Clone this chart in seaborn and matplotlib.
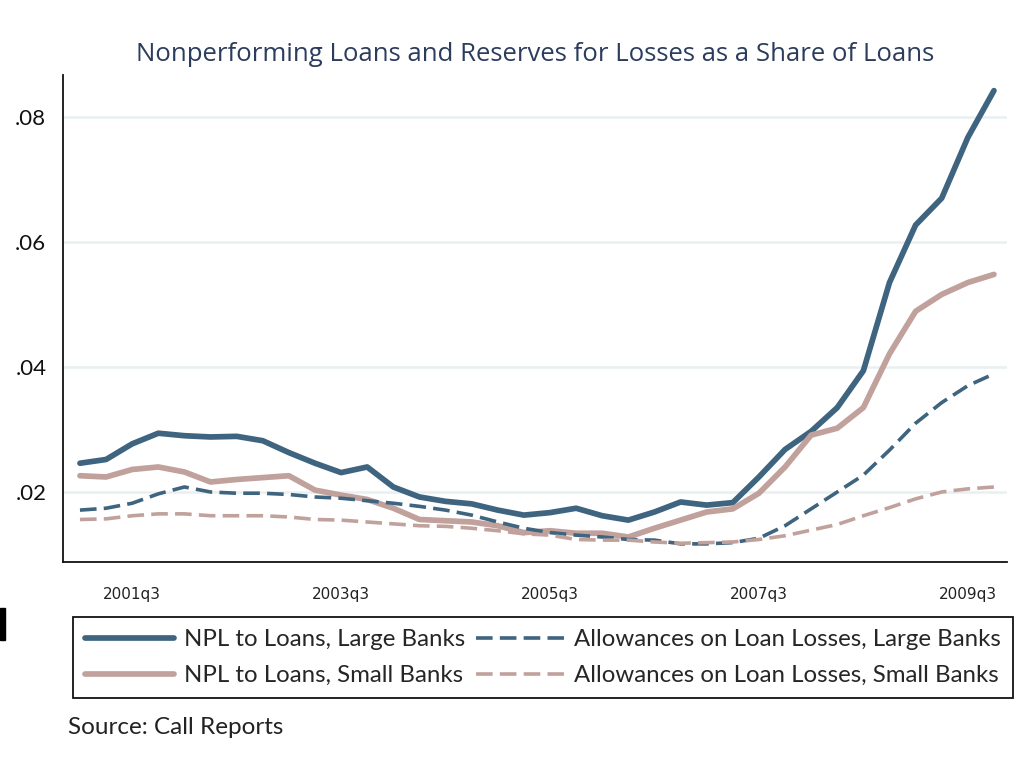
import pandas as pd
import matplotlib.pyplot as plt
import seaborn as sns
from matplotlib.patches import Rectangle

# Quarterly series, 2001q1 - 2009q4
quarters = [f'{y}q{q}' for y in range(2001, 2010) for q in range(1, 5)]

npl_large = [0.0246, 0.0252, 0.0277, 0.0294, 0.0290, 0.0288, 0.0289, 0.0282, 0.0263,
             0.0246, 0.0231, 0.0240, 0.0208, 0.0192, 0.0185, 0.0181, 0.0171, 0.0163,
             0.0167, 0.0174, 0.0162, 0.0155, 0.0168, 0.0184, 0.0179, 0.0183, 0.0224,
             0.0268, 0.0297, 0.0335, 0.0394, 0.0535, 0.0627, 0.0670, 0.0767, 0.0842]
npl_small = [0.0226, 0.0224, 0.0236, 0.0240, 0.0232, 0.0216, 0.0220, 0.0223, 0.0226,
             0.0203, 0.0195, 0.0188, 0.0174, 0.0156, 0.0154, 0.0152, 0.0146, 0.0135,
             0.0138, 0.0134, 0.0134, 0.0128, 0.0142, 0.0155, 0.0168, 0.0173, 0.0198,
             0.0240, 0.0291, 0.0302, 0.0335, 0.0421, 0.0489, 0.0516, 0.0535, 0.0548]
allow_large = [0.0171, 0.0174, 0.0182, 0.0197, 0.0208, 0.0200, 0.0198, 0.0198, 0.0196,
               0.0192, 0.0190, 0.0186, 0.0182, 0.0177, 0.0171, 0.0163, 0.0152, 0.0142,
               0.0135, 0.0131, 0.0128, 0.0124, 0.0123, 0.0117, 0.0117, 0.0119, 0.0126,
               0.0146, 0.0173, 0.0200, 0.0227, 0.0267, 0.0310, 0.0343, 0.0370, 0.0389]
allow_small = [0.0156, 0.0157, 0.0162, 0.0165, 0.0165, 0.0162, 0.0162, 0.0162, 0.0160,
               0.0156, 0.0155, 0.0152, 0.0149, 0.0146, 0.0145, 0.0142, 0.0138, 0.0133,
               0.0131, 0.0124, 0.0123, 0.0123, 0.0120, 0.0118, 0.0119, 0.0120, 0.0124,
               0.0130, 0.0139, 0.0148, 0.0162, 0.0175, 0.0189, 0.0200, 0.0205, 0.0208]

xtick_labels = ['2001q3', '2003q3', '2005q3', '2007q3', '2009q3']
ytick_vals = [0.02, 0.04, 0.06, 0.08]
ytick_labels = ['.02', '.04', '.06', '.08']

labels = ['NPL to Loans, Large Banks', 'NPL to Loans, Small Banks',
          'Allowances on Loan Losses, Large Banks', 'Allowances on Loan Losses, Small Banks']

df = pd.DataFrame({'t': range(len(quarters)), 'quarter': quarters,
                   'npl_large': npl_large, 'npl_small': npl_small,
                   'allow_large': allow_large, 'allow_small': allow_small})

BLUE = '#3e647f'
PINK = '#c1a19b'

sns.set_style('white')
plt.rcParams['font.family'] = ['Lato', 'DejaVu Sans']

fig = plt.figure(figsize=(10.28, 7.7), dpi=100)
ax = fig.add_axes([63 / 1028, 1 - 562 / 770, (1007 - 63) / 1028, (562 - 75) / 770])

# grid first so it sits under the lines
for v in ytick_vals:
    ax.axhline(v, color='#e8f0f2', linewidth=1.8, zorder=0)

dash = (0, (4.6, 2.0))
sns.lineplot(data=df, x='t', y='npl_large', color=BLUE, linewidth=4.1, ax=ax, label=labels[0])
sns.lineplot(data=df, x='t', y='npl_small', color=PINK, linewidth=4.1, ax=ax, label=labels[1])
sns.lineplot(data=df, x='t', y='allow_large', color=BLUE, linewidth=2.6, linestyle=dash, ax=ax, label=labels[2])
sns.lineplot(data=df, x='t', y='allow_small', color=PINK, linewidth=2.6, linestyle=dash, ax=ax, label=labels[3])

ax.set_xlim(-0.65, 35.5)
ax.set_ylim(0.0088, 0.0867)
ax.set_xlabel('')
ax.set_ylabel('')

ax.set_xticks([quarters.index(q) for q in xtick_labels])
ax.set_xticklabels(xtick_labels, fontsize=11, family='DejaVu Sans', color='#222222')
ax.set_yticks(ytick_vals)
ax.set_yticklabels(ytick_labels, fontsize=16, color='#111111')
ax.tick_params(axis='both', direction='out', length=8, width=1.2, color='#222222')
ax.tick_params(axis='x', pad=10)
ax.tick_params(axis='y', pad=4)

sns.despine(ax=ax)
for side in ['left', 'bottom']:
    ax.spines[side].set_color('#111111')
    ax.spines[side].set_linewidth(1.3)

ax.set_title('Nonperforming Loans and Reserves for Losses as a Share of Loans',
             fontsize=18.5, color='#2b3c5c', family=['Open Sans', 'DejaVu Sans'], pad=10)

handles, lbls = ax.get_legend_handles_labels()
ax.get_legend().remove()
leg = fig.legend(handles, lbls, ncol=2, loc='upper left',
                 bbox_to_anchor=(73 / 1028, 1 - 617 / 770),
                 frameon=True, fancybox=False, edgecolor='#111111', framealpha=1,
                 fontsize=17.3, handlelength=3.7, handletextpad=0.4, columnspacing=0.45,
                 borderpad=0.5, labelspacing=0.62, borderaxespad=0)
leg.get_frame().set_linewidth(1.3)

fig.text(68 / 1028, 1 - 727 / 770, 'Source: Call Reports', fontsize=17.5, va='center',
         color='#222222')

# small dark mark on the left edge of the original screenshot
fig.add_artist(Rectangle((0, 1 - 640 / 770), 5 / 1028, 32 / 770,
                         transform=fig.transFigure, color='black'))

plt.savefig('out.png', dpi=100)
